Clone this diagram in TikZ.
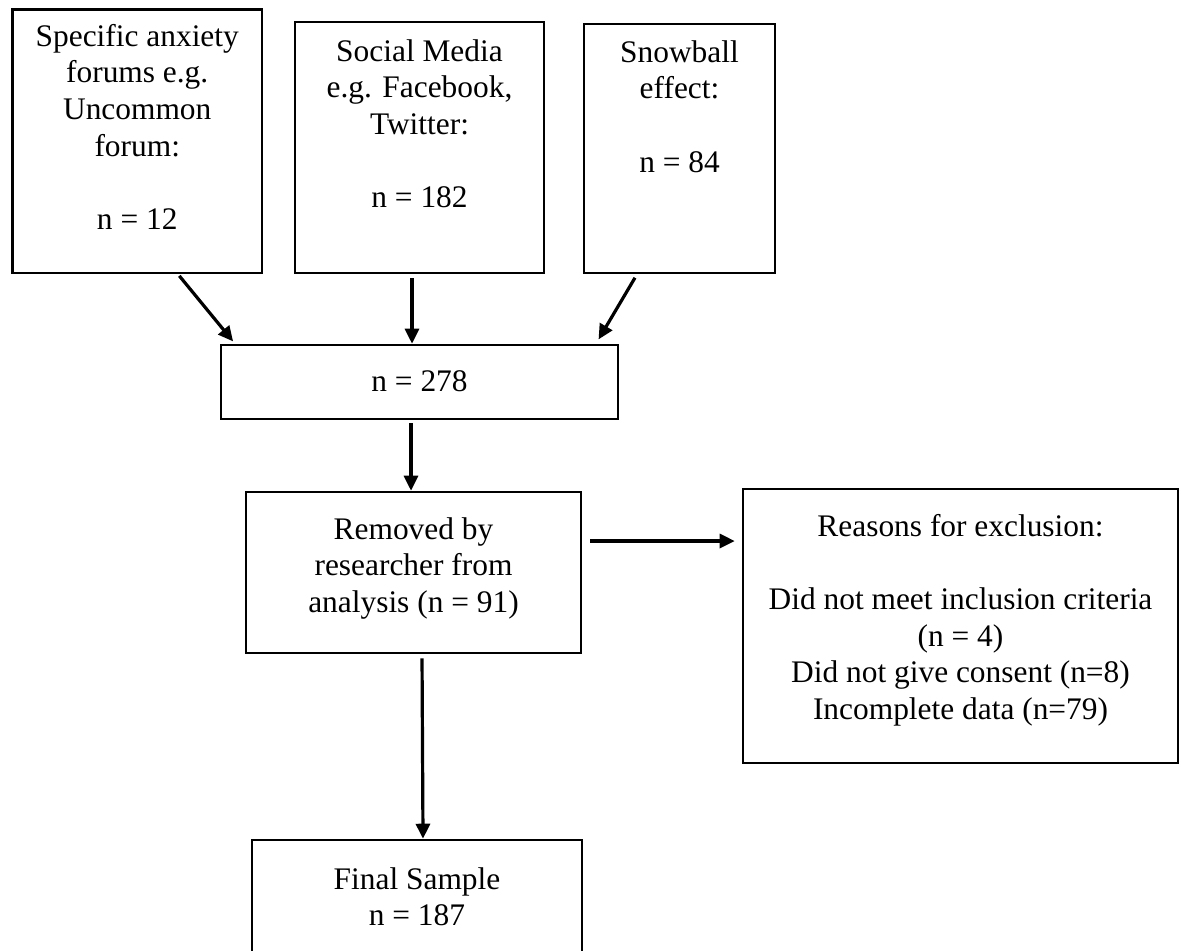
\documentclass[tikz,border=0pt]{standalone}
\usepackage{fontspec}
\setmainfont{Liberation Serif}
\usetikzlibrary{arrows.meta}
\begin{document}
\begin{tikzpicture}[x=0.5pt,y=-0.5pt,
  box/.style={draw, line width=1.3pt, rectangle, inner sep=0pt},
  txt/.style={align=center, inner sep=0pt, anchor=north,
    font=\fontsize{15.7pt}{18.35pt}\selectfont},
  flow/.style={line width=1.6pt, -{Triangle[length=7.5pt,width=7pt]}}]
\clip (0,0) rectangle (1181,950);

% recruitment sources
\node[box, minimum width=124.75pt, minimum height=131.75pt] (b1) at (137.25,141.25) {};
\node[txt] (t1) at ([yshift=-5.9pt]b1.north)
  {\strut Specific anxiety\\forums e.g.\\Uncommon\\forum:\\[18.35pt]n = 12};

\node[box, minimum width=124.5pt, minimum height=125.5pt] (b2) at (419.5,147.5) {};
\node[txt] (t2) at ([yshift=-7.15pt]b2.north)
  {\strut Social Media\\e.g. Facebook,\\Twitter:\\[18.35pt]n = 182};

\node[box, minimum width=95.5pt, minimum height=124.5pt] (b3) at (679.5,148.5) {};
\node[txt] (t3) at ([yshift=-6.65pt]b3.north)
  {\strut Snowball\\effect:\\[18.35pt]n = 84};

% total recruited
\node[box, minimum width=198.5pt, minimum height=37pt] (b4) at (419.5,382) {};
\node[txt] (t4) at ([yshift=-10.65pt]b4.north) {\strut n = 278};

% removed
\node[box, minimum width=167.5pt, minimum height=80.5pt] (b5) at (413.5,572.5) {};
\node[txt] (t5) at ([yshift=-11.15pt]b5.north)
  {\strut Removed by\\researcher from\\analysis (n = 91)};

% reasons
\node[box, minimum width=217.5pt, minimum height=137pt] (b6) at (960.5,626) {};
\node[txt] (t6) at ([yshift=-11.15pt]b6.north)
  {\strut Reasons for exclusion:\\[18.35pt]Did not meet inclusion criteria\\(n = 4)\\Did not give consent (n=8)\\Incomplete data (n=79)};

% final sample
\node[box, minimum width=165pt, minimum height=61.5pt] (b7) at (417,901.5) {};
\node[txt] (t7) at ([yshift=-12.15pt]b7.north) {\strut Final Sample\\n = 187};

% connectors
\draw[flow, shorten <=1pt, shorten >=1.5pt] ([xshift=20.4pt]b1.south) -- ([xshift=-92.25pt]b4.north);
\draw[flow, shorten <=2pt] ([xshift=-3.75pt]b2.south) -- ([xshift=-3.75pt]b4.north);
\draw[flow, shorten <=2pt, shorten >=2.5pt] ([xshift=-21.25pt]b3.south) -- ([xshift=88.25pt]b4.north);
\draw[flow, shorten <=1.5pt] ([xshift=-4.25pt]b4.south) -- ([xshift=-1.25pt]b5.north);
\draw[flow, shorten <=4pt, shorten >=3.5pt] ([yshift=15.75pt]b5.east) -- ([yshift=42.5pt]b6.west);
\draw[flow, shorten <=2pt] ([xshift=4.25pt]b5.south) -- ([xshift=3pt]b7.north);
\end{tikzpicture}
\end{document}
